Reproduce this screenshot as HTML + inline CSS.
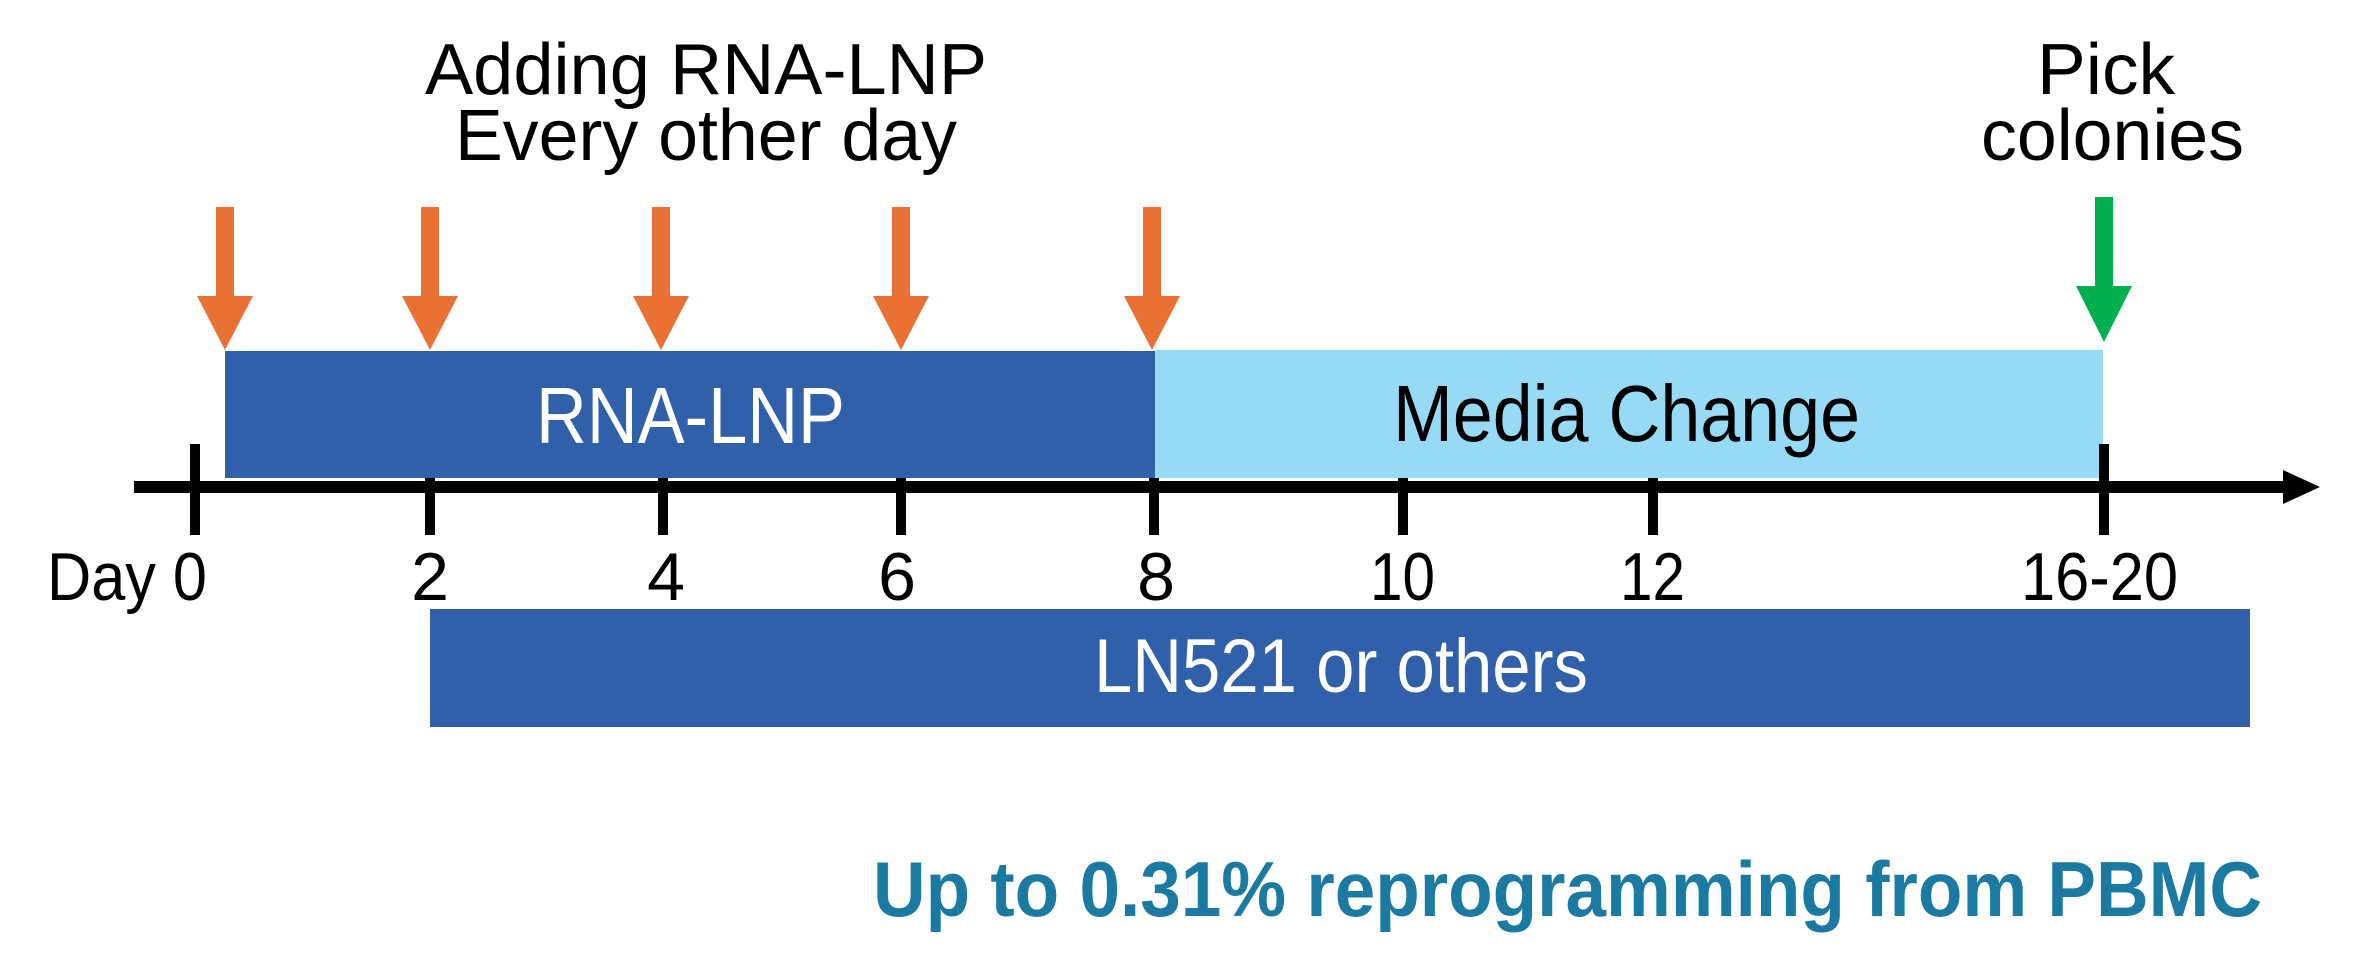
<!DOCTYPE html>
<html><head><meta charset="utf-8"><style>html,body{margin:0;padding:0;background:#fff;}svg{display:block}</style></head>
<body>
<svg width="2360" height="976" viewBox="0 0 2360 976" xmlns="http://www.w3.org/2000/svg" font-family="'Liberation Sans', Arial, sans-serif">
<rect width="2360" height="976" fill="#fff"/>
<!-- titles -->
<text x="425" y="94" font-size="72" textLength="562" lengthAdjust="spacingAndGlyphs">Adding RNA-LNP</text>
<text x="455" y="160" font-size="72" textLength="502" lengthAdjust="spacingAndGlyphs">Every other day</text>
<text x="2037" y="94" font-size="72" textLength="138" lengthAdjust="spacingAndGlyphs">Pick</text>
<text x="1981" y="160" font-size="72" textLength="263" lengthAdjust="spacingAndGlyphs">colonies</text>
<!-- bars -->
<rect x="225" y="351" width="930" height="127" fill="#3060aa"/>
<rect x="1155" y="350" width="948" height="128" fill="#97daf6"/>
<rect x="430" y="609" width="1820" height="118" fill="#3060aa"/>
<text x="536" y="443" font-size="80" fill="#fff" textLength="309" lengthAdjust="spacingAndGlyphs">RNA-LNP</text>
<text x="1393" y="441" font-size="80" fill="#000" textLength="467" lengthAdjust="spacingAndGlyphs">Media Change</text>
<text x="1094" y="692" font-size="76" fill="#fff" textLength="494" lengthAdjust="spacingAndGlyphs">LN521 or others</text>
<!-- axis -->
<rect x="134" y="481" width="2155" height="12" fill="#000"/>
<polygon points="2283,470 2320,487 2283,504" fill="#000"/>
<g fill="#000">
<rect x="190" y="444" width="10" height="91"/>
<rect x="425" y="478" width="10" height="57"/>
<rect x="658" y="478" width="10" height="57"/>
<rect x="896" y="478" width="10" height="57"/>
<rect x="1149" y="478" width="10" height="57"/>
<rect x="1398" y="478" width="10" height="57"/>
<rect x="1648" y="478" width="10" height="57"/>
<rect x="2099" y="444" width="10" height="91"/>
</g>
<!-- day labels -->
<g font-size="68" fill="#000">
<text x="47" y="600" textLength="160" lengthAdjust="spacingAndGlyphs">Day 0</text>
<text x="430" y="600" text-anchor="middle">2</text>
<text x="666" y="600" text-anchor="middle">4</text>
<text x="897" y="600" text-anchor="middle">6</text>
<text x="1156" y="600" text-anchor="middle">8</text>
<text x="1370" y="600" textLength="65" lengthAdjust="spacingAndGlyphs">10</text>
<text x="1620" y="600" textLength="65" lengthAdjust="spacingAndGlyphs">12</text>
<text x="2021" y="600" textLength="157" lengthAdjust="spacingAndGlyphs">16-20</text>
</g>
<!-- orange arrows -->
<g fill="#e87133">
<rect x="216" y="207" width="18" height="90"/><polygon points="197,296 253,296 225,350"/>
<rect x="421" y="207" width="18" height="90"/><polygon points="402,296 458,296 430,350"/>
<rect x="652" y="207" width="18" height="90"/><polygon points="633,296 689,296 661,350"/>
<rect x="892" y="207" width="18" height="90"/><polygon points="873,296 929,296 901,350"/>
<rect x="1143" y="207" width="18" height="90"/><polygon points="1124,296 1180,296 1152,350"/>
</g>
<!-- green arrow -->
<g fill="#00b04f">
<rect x="2095" y="197" width="18" height="90"/><polygon points="2076,286 2132,286 2104,342"/>
</g>
<text x="873" y="916" font-size="78" font-weight="bold" fill="#1a7aa2" textLength="1389" lengthAdjust="spacingAndGlyphs">Up to 0.31% reprogramming from PBMC</text>
</svg>
</body></html>
